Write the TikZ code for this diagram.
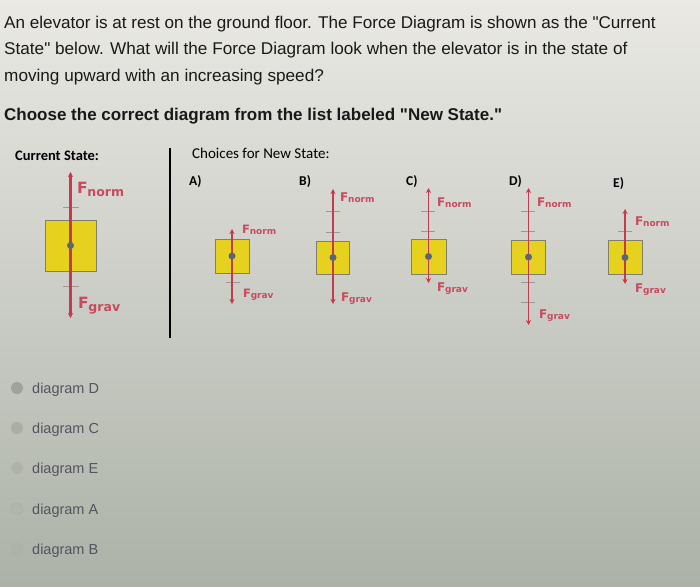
\documentclass[tikz,border=0pt]{standalone}
\usepackage{fontspec}
\setmainfont{Liberation Sans}
\newfontfamily\carl{Carlito}
\newfontfamily\dej{DejaVu Sans}
\usetikzlibrary{arrows.meta}
\definecolor{bgtop}{RGB}{234,233,228}
\definecolor{bgmid}{RGB}{214,215,205}
\definecolor{bgbot}{RGB}{172,178,168}
\definecolor{fred}{RGB}{197,58,76}
\definecolor{lred}{RGB}{201,74,94}
\definecolor{byel}{RGB}{230,209,31}
\definecolor{bedge}{RGB}{128,128,110}
\definecolor{dotc}{RGB}{95,100,114}
\definecolor{tickc}{RGB}{160,150,150}
\definecolor{optc}{RGB}{84,84,96}
\definecolor{radc}{RGB}{160,162,156}
\newcommand\Fl[4]{{\fontsize{#1}{#1}\selectfont F}\kern-0.3pt\raisebox{-#3pt}{\fontsize{#2}{#2}\selectfont #4}}
\newcommand\fdiag[7]{%
  \node[fbox, minimum size=#4pt] (#1-box) at (#2,#3) {};
  \coordinate (#1-top) at (#2,#5);
  \coordinate (#1-bot) at (#2,#6);
  \draw[force,line width=#7pt] (#1-box.center) -- (#1-top);
  \draw[force,line width=#7pt] (#1-box.center) -- (#1-bot);
  \node[fdot] (#1-dot) at (#1-box.center) {};
}
\tikzset{
  txt/.style={anchor=base west, inner sep=0pt, text=black},
  qtxt/.style={anchor=base west, inner sep=0pt, text=black!90, font=\fontsize{17}{17}\selectfont},
  fbox/.style={draw=bedge, line width=1pt, fill=byel, inner sep=0pt},
  fdot/.style={circle, fill=dotc, minimum size=7pt, inner sep=0pt},
  force/.style={draw=fred, -{Stealth[length=5pt,width=5pt]}},
  tickmark/.style={draw=tickc, line width=0.8pt},
  lab/.style={anchor=base west, inner sep=0pt, text=lred, font=\dej\bfseries},
  opt/.style={anchor=base west, inner sep=0pt, text=optc, font=\fontsize{14.5}{14.5}\selectfont},
  radio/.style={circle, minimum size=12pt, inner sep=0pt},
  choice/.style={anchor=base west, inner sep=0pt, text=black, font=\carl\bfseries\fontsize{13.5}{13.5}\selectfont},
}
\begin{document}
\begin{tikzpicture}[x=1pt,y=-1pt]
\shade[top color=bgtop, middle color=bgmid, bottom color=bgbot] (0,0) rectangle (700,586);
\useasboundingbox (0,0) rectangle (700,586);
% question text
\node[qtxt] (q1) at (4,29) {\scalebox{1.005}[1]{An elevator is at rest on the ground floor. The Force Diagram is shown as the \textquotedbl Current}};
\node[qtxt] (q2) at (4,55) {\scalebox{1.01}[1]{State\textquotedbl{} below. What will the Force Diagram look when the elevator is in the state of}};
\node[qtxt] (q3) at (4,81) {\scalebox{1.01}[1]{moving upward with an increasing speed?}};
\node[qtxt] (q4) at (4,120) {\bfseries Choose the correct diagram from the list labeled \textquotedbl New State.\textquotedbl};
% headings
\node[txt] (cur) at (15,160) {\carl\bfseries\fontsize{14.5}{14.5}\selectfont Current State:};
\node[txt] (cho) at (192,158) {\carl\fontsize{15}{15}\selectfont Choices for New State:};
\node[choice] (la) at (189,185) {A)};
\node[choice] (lb) at (299,185) {B)};
\node[choice] (lc) at (406,185) {C)};
\node[choice] (ld) at (509,185) {D)};
\node[choice] (le) at (613,187) {E)};
% divider
\coordinate (divt) at (170,148);
\coordinate (divb) at (170,338);
\draw[line width=2pt, black] (divt) -- (divb);
% current state
\draw[tickmark] (63,207) -- (79,207);
\draw[tickmark] (63,286) -- (79,286);
\fdiag{cs}{70.5}{245.5}{51}{172}{318}{2.2}
\node[lab] (csn) at (77,193) {\Fl{15.5}{12.5}{3}{norm}};
\node[lab] (csg) at (78,308) {\Fl{15.5}{12.5}{3}{grav}};
% A
\draw[tickmark] (226,282) -- (240,282);
\fdiag{a}{232}{256}{34}{229}{304}{1.6}
\node[lab] (an) at (242,233) {\Fl{11.5}{9}{1.5}{norm}};
\node[lab] (ag) at (243,297) {\Fl{11.5}{9}{1.5}{grav}};
% B
\draw[tickmark] (326,211) -- (340,211);
\draw[tickmark] (326,232) -- (340,232);
\fdiag{b}{333}{257.5}{33}{189}{304}{1.6}
\node[lab] (bn) at (340,201) {\Fl{12}{9}{1.5}{norm}};
\node[lab] (bg) at (341,301) {\Fl{12}{9}{1.5}{grav}};
% C
\draw[tickmark] (421,211) -- (435,211);
\draw[tickmark] (421,231) -- (435,231);
\fdiag{c}{428.5}{256.5}{35}{188}{283}{1.6}
\node[lab] (cn) at (437,206) {\Fl{12}{9}{1.5}{norm}};
\node[lab] (cg) at (437,291) {\Fl{12}{9}{1.5}{grav}};
% D
\draw[tickmark] (521,211) -- (535,211);
\draw[tickmark] (521,231) -- (535,231);
\draw[tickmark] (521,282) -- (535,282);
\draw[tickmark] (521,302) -- (535,302);
\fdiag{d}{528.5}{257}{34}{188}{325}{1.6}
\node[lab] (dn) at (537,206) {\Fl{12}{9}{1.5}{norm}};
\node[lab] (dg) at (539,318) {\Fl{12}{9}{1.5}{grav}};
% E
\draw[tickmark] (618,231) -- (632,231);
\fdiag{e}{625}{257.5}{34}{209}{284}{1.6}
\node[lab] (en) at (635,225) {\Fl{12}{9}{1.5}{norm}};
\node[lab] (eg) at (635,292) {\Fl{12}{9}{1.5}{grav}};
% options
\node[radio, fill=radc] (r1) at (17,388) {};
\node[radio, fill=radc, fill opacity=0.6] (r2) at (17,428) {};
\node[radio, fill=radc, fill opacity=0.4] (r3) at (17,468) {};
\node[radio, draw=radc, draw opacity=0.4, fill=radc, fill opacity=0.15] (r4) at (17,509) {};
\node[radio, draw=radc, draw opacity=0.3, fill=radc, fill opacity=0.1] (r5) at (17,549) {};
\node[opt] (o1) at (32,393) {diagram D};
\node[opt] (o2) at (32,433) {diagram C};
\node[opt] (o3) at (32,473) {diagram E};
\node[opt] (o4) at (32,514) {diagram A};
\node[opt] (o5) at (32,554) {diagram B};
\end{tikzpicture}
\end{document}
